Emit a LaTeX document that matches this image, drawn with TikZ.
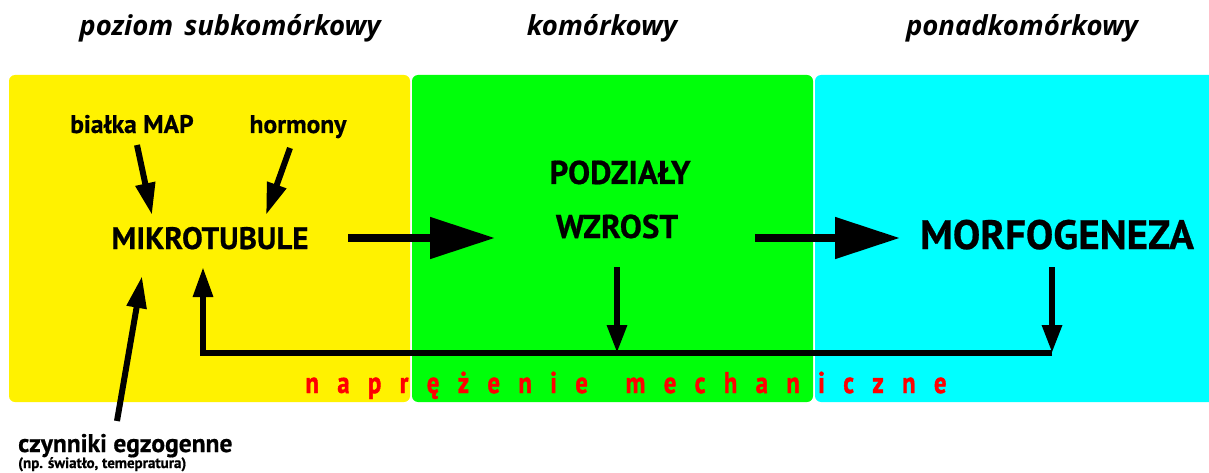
\documentclass[tikz,border=0pt]{standalone}
\usepackage{fontspec}
\setmainfont{PT Sans}[BoldFeatures={FakeBold=0.6}]
\newfontfamily\headfont{Open Sans}
\newfontfamily\tensionfont{PT Sans}[BoldFeatures={FakeBold=1.6}]
\usetikzlibrary{arrows.meta}
\definecolor{subyellow}{HTML}{FFF200}
\definecolor{cellgreen}{HTML}{00FF0A}
\definecolor{supracyan}{HTML}{00FFFF}
\definecolor{tensionred}{HTML}{FF0000}
% spacing inside the letter-spaced caption (before horizontal squeeze)
\newcommand\lgap{\hspace{22.5pt}}
\newcommand\wgap{\hspace{46pt}}

\begin{document}
\begin{tikzpicture}[x=1pt,y=-1pt,
  inner sep=0pt,
  levelbox/.style={rounded corners=6pt},
  levellabel/.style={anchor=base,font=\headfont\fontsize{27.5}{27.5}\selectfont\bfseries\itshape},
  factor/.style={anchor=base,font=\fontsize{25.5}{25.5}\selectfont\bfseries},
  process/.style={anchor=base,font=\fontsize{33}{33}\selectfont\bfseries},
  smallarr/.style={line width=6pt,-{Triangle[length=32pt,width=19pt]}},
  bigarr/.style={line width=8pt,-{Triangle[length=65pt,width=40pt]}},
  feedarr/.style={line width=6pt,line join=miter,-{Triangle[length=30pt,width=19pt]}},
  downarr/.style={line width=6pt,-{Triangle[length=28pt,width=19pt]}}]

\useasboundingbox (0,0) rectangle (1209,473);

% the three levels of organisation
\fill[subyellow,levelbox] (9,75) rectangle (410,402);
\fill[cellgreen,levelbox] (412,75) rectangle (813,402);
\begin{scope}
  \clip (0,0) rectangle (1209,473);
  \fill[supracyan,levelbox] (815,75) rectangle (1230,402);
\end{scope}

% level headings
\node[levellabel] (lvlsub) at (230,36) {poziom\hspace{4pt} subkomórkowy};
\node[levellabel] (lvlcell) at (602,36) {komórkowy};
\node[levellabel] (lvlsupra) at (1022,36) {ponadkomórkowy};

% factors and processes
\node[factor] (map) at (132,133) {białka MAP};
\node[factor] (horm) at (298,133) {hormony};
\node[process,font=\fontsize{31}{31}\selectfont\bfseries] (mikro) at (210,249) {MIKROTUBULE};
\node[process] (podz) at (620,184) {PODZIAŁY};
\node[process] (wzrost) at (617,238) {WZROST};
\node[process,font=\fontsize{41}{41}\selectfont\bfseries] (morf) at (1057,249) {MORFOGENEZA};

\node[factor,anchor=base west] (exo) at (18,452) {czynniki egzogenne};
\node[anchor=base west,font=\fontsize{15}{15}\selectfont\bfseries] (exonote) at (18,468) {(np. światło, temepratura)};

\node[anchor=base,text=tensionred,font=\tensionfont\fontsize{30}{30}\selectfont\bfseries] (tension) at (626,393)
  {\scalebox{0.82}[1]{n\lgap a\lgap p\lgap r\lgap ę\lgap ż\lgap e\lgap n\lgap i\lgap e\wgap
   m\lgap e\lgap c\lgap h\lgap a\lgap n\lgap i\lgap c\lgap z\lgap n\lgap e}};

% connector end points
\coordinate (mapFrom) at (137,145);
\coordinate (mapTo) at (152,215);
\coordinate (hormFrom) at (290,148);
\coordinate (hormTo) at (266,215);
\coordinate (mikroOut) at (348,238);
\coordinate (cellIn) at (495,238);
\coordinate (cellOut) at (755,238);
\coordinate (morfIn) at (900,238);
\coordinate (exoFrom) at (117,421);
\coordinate (exoTo) at (142,276);
\coordinate (wzrostDown) at (617,267);
\coordinate (wzrostHit) at (617,353);
\coordinate (morfDown) at (1052,267);
\coordinate (feedStart) at (1052,353);
\coordinate (feedCorner) at (203,353);
\coordinate (mikroBack) at (203,267);

% influences on the microtubules
\draw[smallarr] (mapFrom) -- (mapTo);
\draw[smallarr] (hormFrom) -- (hormTo);
\draw[smallarr] (exoFrom) -- (exoTo);

% main chain
\draw[bigarr] (mikroOut) -- (cellIn);
\draw[bigarr] (cellOut) -- (morfIn);

% mechanical feedback loop
\draw[feedarr] (feedStart) -- (feedCorner) -- (mikroBack);
\draw[downarr] (wzrostDown) -- (wzrostHit);
\draw[downarr] (morfDown) -- (feedStart);
\end{tikzpicture}
\end{document}
